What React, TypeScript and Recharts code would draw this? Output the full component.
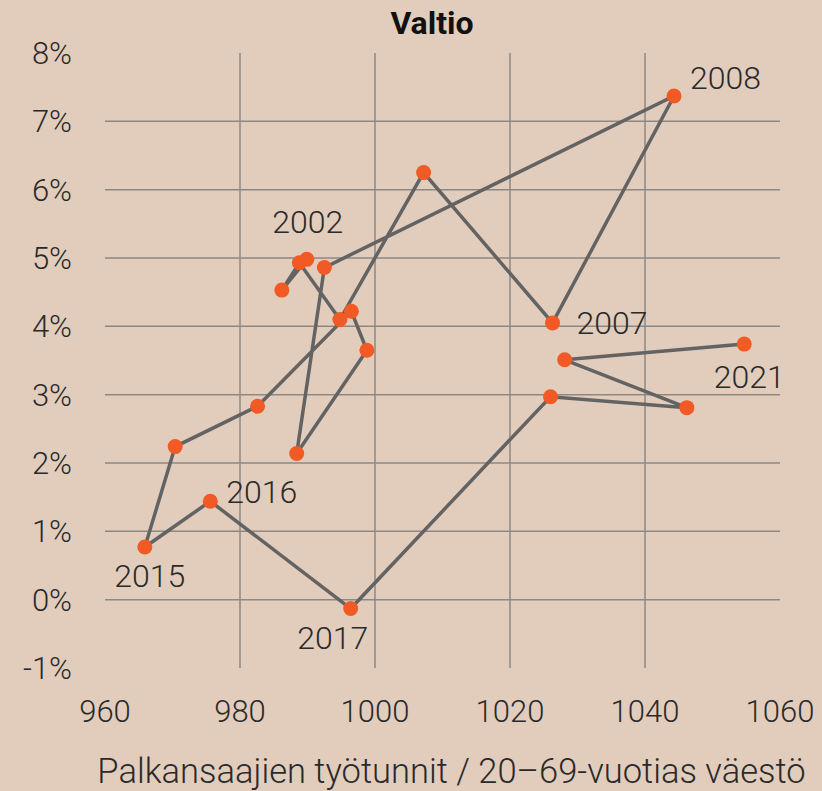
import React from "react";
import { CartesianGrid, Scatter, ScatterChart, XAxis, YAxis } from "recharts";

const YEARS = [2002, 2003, 2004, 2005, 2006, 2007, 2008, 2009, 2010, 2011, 2012, 2013, 2014, 2015, 2016, 2017, 2018, 2019, 2020, 2021];
const HOURS = [989.9, 986.2, 988.8, 994.8, 1007.2, 1026.3, 1044.3, 992.5, 988.4, 998.8, 996.5, 982.6, 970.4, 965.9, 975.6, 996.4, 1026.0, 1046.2, 1028.1, 1054.7];
const GROWTH = [4.98, 4.53, 4.93, 4.1, 6.25, 4.05, 7.37, 4.86, 2.14, 3.65, 4.22, 2.83, 2.24, 0.77, 1.44, -0.13, 2.97, 2.81, 3.51, 3.74];
const X_TICKS = [960, 980, 1000, 1020, 1040, 1060];
const Y_TICKS = [-1, 0, 1, 2, 3, 4, 5, 6, 7, 8];
const GRID_X = [980, 1000, 1020, 1040];
const GRID_Y = [0, 1, 2, 3, 4, 5, 6, 7];
const LABELED = [2002, 2007, 2008, 2015, 2016, 2017, 2021];

// where each year label sits relative to its dot
const LABEL_POS: Record<number, { dx: number; dy: number; anchor: "start" | "middle" }> = {
  2002: { dx: 1, dy: -37, anchor: "middle" },
  2007: { dx: 24, dy: 0, anchor: "start" },
  2008: { dx: 16, dy: -18, anchor: "start" },
  2015: { dx: 5, dy: 29, anchor: "middle" },
  2016: { dx: 16, dy: -9, anchor: "start" },
  2017: { dx: -18, dy: 29, anchor: "middle" },
  2021: { dx: 5, dy: 33, anchor: "middle" },
};

const BG = "#e2cdbd";
const FONT = "Roboto, 'Noto Sans', sans-serif";
const TEXT = "#2a2a2a";

const data = YEARS.map((year, i) => ({ year, x: HOURS[i], y: GROWTH[i] }));

function Dot(props: any) {
  const { cx, cy, payload } = props;
  const pos = LABELED.includes(payload.year) ? LABEL_POS[payload.year] : null;
  return (
    <g>
      <circle cx={cx} cy={cy} r={7.5} fill="#f15a24" />
      {pos && (
        <text
          x={cx + pos.dx}
          y={cy + pos.dy}
          textAnchor={pos.anchor}
          dominantBaseline="central"
          fill={TEXT}
          fontSize={32}
          fontWeight={300}
          fontFamily={FONT}
        >
          {payload.year}
        </text>
      )}
    </g>
  );
}

export default function App() {
  return (
    <div style={{ position: "absolute", left: 0, top: 0, width: 822, height: 791, background: BG, fontFamily: FONT }}>
      <div
        style={{
          position: "absolute",
          top: 4,
          left: 332,
          width: 200,
          textAlign: "center",
          fontSize: 32,
          fontWeight: 700,
          color: "#111",
        }}
      >
        Valtio
      </div>
      <ScatterChart width={822} height={791} margin={{ top: 53, right: 42, bottom: 0, left: 0 }}>
        <CartesianGrid
          horizontalValues={GRID_Y}
          verticalValues={GRID_X}
          stroke="#8c8884"
          strokeWidth={1.5}
        />
        <XAxis
          type="number"
          dataKey="x"
          domain={[960, 1060]}
          ticks={X_TICKS}
          axisLine={false}
          tickLine={false}
          tickSize={6}
          tickMargin={26}
          height={123}
          tick={{ fill: TEXT, fontSize: 31, fontWeight: 300, fontFamily: FONT }}
          label={{
            value: "Palkansaajien työtunnit / 20–69-vuotias väestö",
            position: "insideBottom",
            offset: 8,
            dx: 9,
            fill: TEXT,
            fontSize: 34.5,
            fontWeight: 300,
            fontFamily: FONT,
          }}
        />
        <YAxis
          type="number"
          dataKey="y"
          domain={[-1, 8]}
          ticks={Y_TICKS}
          axisLine={false}
          tickLine={false}
          tickSize={6}
          tickMargin={27}
          width={105}
          tickFormatter={(v: number) => `${v}%`}
          tick={{ fill: TEXT, fontSize: 31, fontWeight: 300, fontFamily: FONT }}
        />
        <Scatter
          data={data}
          line={{ stroke: "#636363", strokeWidth: 3.5 }}
          lineType="joint"
          shape={Dot}
          isAnimationActive={false}
        />
      </ScatterChart>
    </div>
  );
}
